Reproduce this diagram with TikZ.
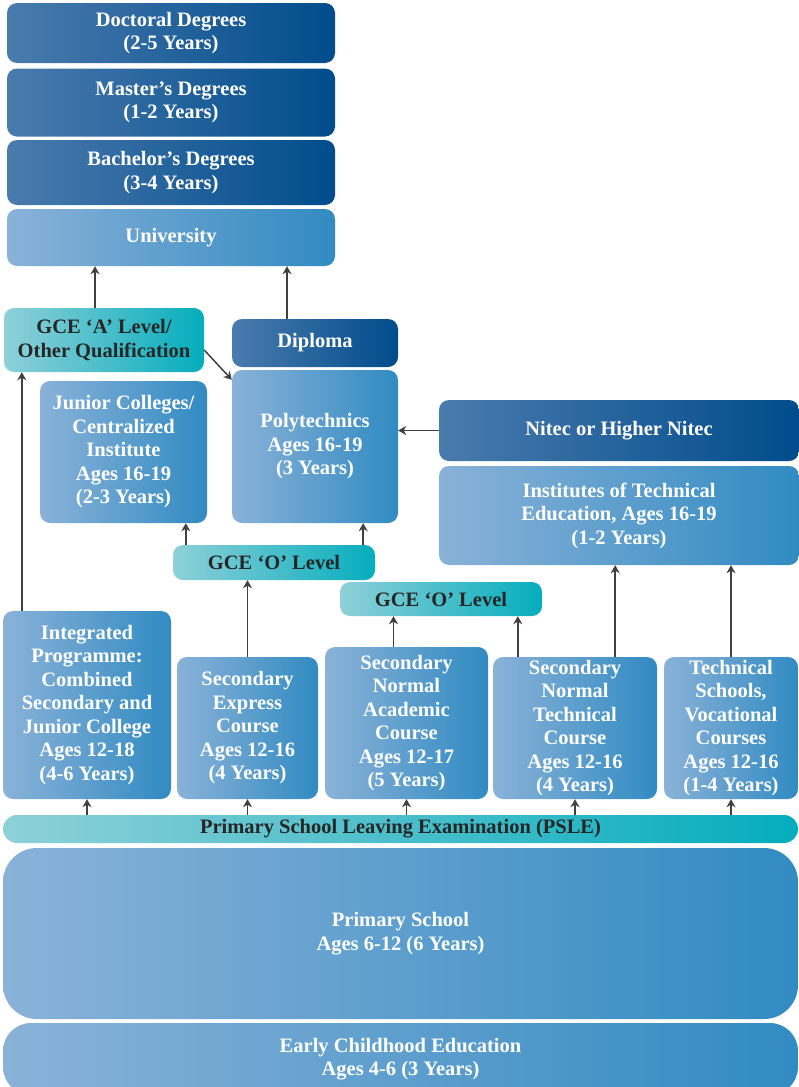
\documentclass[tikz,border=0pt]{standalone}
\usepackage{fontspec}
\setmainfont{Liberation Serif}
\usepackage{tikz}
\usetikzlibrary{arrows.meta}
\usepackage{xcolor}

\definecolor{degL}{HTML}{4A7BAD}
\definecolor{degR}{HTML}{004C8C}
\definecolor{stgL}{HTML}{8AB2D8}
\definecolor{stgR}{HTML}{318BC2}
\definecolor{exmL}{HTML}{8ED0D8}
\definecolor{exmR}{HTML}{05ADBD}
\newcommand{\boxfont}{\fontsize{20.5}{23.5}\selectfont\bfseries}

\tikzset{
  box/.style={rounded corners=10pt, align=center, text=white, inner sep=1pt, font=\boxfont},
  deg/.style={box, left color=degL, right color=degR},
  stage/.style={box, left color=stgL, right color=stgR},
  exam/.style={box, left color=exmL, right color=exmR, text=black!85},
  wh/.style 2 args={minimum width=#1, minimum height=#2},
  link/.style={-{Stealth[length=8pt,width=9pt,inset=2.5pt]}, line width=1.5pt, black!75}
}

\begin{document}
\begin{tikzpicture}[x=1pt,y=-1pt]
\clip (0,0) rectangle (799,1087);

% tertiary
\node[deg, wh={328}{60}] (doc) at (171,33) {Doctoral Degrees\\(2-5 Years)};
\node[deg, wh={328}{68}] (mast) at (171,102.5) {Master's Degrees\\(1-2 Years)};
\node[deg, wh={328}{65}] (bach) at (171,172.5) {Bachelor's Degrees\\(3-4 Years)};
\node[stage, wh={328}{57}] (uni) at (171,237.5) {University};

% post-secondary
\node[exam, wh={200}{64}] (alvl) at (104,340) {GCE `A' Level/\\Other Qualification};
\node[deg, wh={166}{48}] (dip) at (315,343) {Diploma};
\node[stage, wh={166}{153}] (poly) at (315,446.5) {Polytechnics\\Ages 16-19\\(3 Years)};
\node[stage, wh={167}{142}] (jc) at (123.5,452) {Junior Colleges/\\Centralized\\Institute\\Ages 16-19\\(2-3 Years)};
\node[deg, wh={360}{61}] (nit) at (619,430.5) {Nitec or Higher Nitec};
\node[stage, wh={360}{99}] (ite) at (619,515.5) {Institutes of Technical\\Education, Ages 16-19\\(1-2 Years)};

% O levels
\node[exam, wh={202}{35}] (o1) at (274,562.5) {GCE `O' Level};
\node[exam, wh={202}{34}] (o2) at (441,599) {GCE `O' Level};

% secondary
\node[stage, wh={168}{188}] (ip) at (87,705) {Integrated\\Programme:\\Combined\\Secondary and\\Junior College\\Ages 12-18\\(4-6 Years)};
\node[stage, wh={141}{142}] (expr) at (247.5,728) {Secondary\\Express\\Course\\Ages 12-16\\(4 Years)};
\node[stage, wh={163}{152}] (sna) at (406.5,723) {Secondary\\Normal\\Academic\\Course\\Ages 12-17\\(5 Years)};
\node[stage, wh={164}{142}] (snt) at (575,728) {Secondary\\Normal\\Technical\\Course\\Ages 12-16\\(4 Years)};
\node[stage, wh={134}{142}] (tech) at (731,728) {Technical\\Schools,\\Vocational\\Courses\\Ages 12-16\\(1-4 Years)};

% primary and early years
\node[exam, wh={795}{28}, rounded corners=14pt] (psle) at (400.5,829) {Primary School Leaving Examination (PSLE)};
\node[stage, wh={795}{171}, rounded corners=34pt] (prim) at (400.5,933.5) {Primary School\\Ages 6-12 (6 Years)};
\node[stage, wh={795}{72}, rounded corners=28pt] (early) at (400.5,1059) {Early Childhood Education\\Ages 4-6 (3 Years)};

% arrows
\draw[link] ([xshift=-9pt]alvl.north) -- ([xshift=-9pt]alvl.north |- uni.south);
\draw[link] ([xshift=-28pt]dip.north) -- ([xshift=-28pt]dip.north |- uni.south);
\draw[link] ([yshift=-10pt]alvl.east) -- ([yshift=-10pt]poly.north west);
\draw[link] (nit.west) -- (nit.west -| poly.east);
\draw[link] ([xshift=19pt]ip.north west) -- ([xshift=19pt]ip.north west |- alvl.south);
\draw[link] ([xshift=13pt]o1.north west) -- ([xshift=13pt]o1.north west |- jc.south);
\draw[link] ([xshift=-12pt]o1.north east) -- ([xshift=-12pt]o1.north east |- poly.south);
\draw[link] (expr.north) -- (expr.north |- o1.south);
\draw[link] ([xshift=-13pt]sna.north) -- ([xshift=-13pt]sna.north |- o2.south);
\draw[link] ([xshift=25pt]snt.north west) -- ([xshift=25pt]snt.north west |- o2.south);
\draw[link] ([xshift=-42pt]snt.north east) -- ([xshift=-42pt]snt.north east |- ite.south);
\draw[link] (tech.north) -- (tech.north |- ite.south);
\foreach \b in {ip,expr,sna,snt,tech}
  \draw[link] (psle.north -| \b.south) -- (\b.south);
\end{tikzpicture}
\end{document}
